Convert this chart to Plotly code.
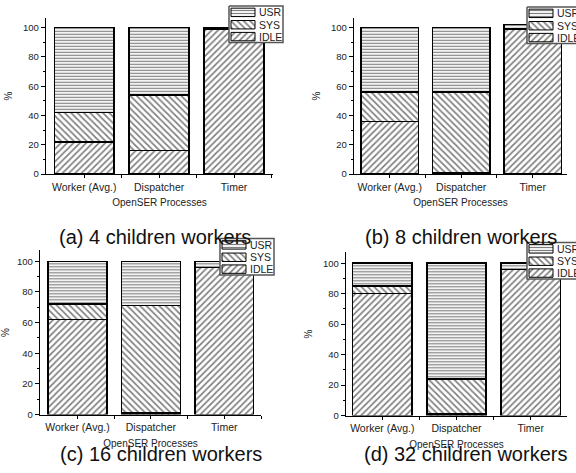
import plotly.graph_objects as go

# CPU usage breakdown of OpenSER processes (percent of time)
processes = ["Worker (Avg.)", "Dispatcher", "Timer"]
panel_titles = ["(a) 4 children workers", "(b) 8 children workers",
                "(c) 16 children workers", "(d) 32 children workers"]
series_names = ["USR", "SYS", "IDLE"]

idle_4 = [22, 16, 99]
sys_4 = [20, 38, 0.5]
usr_4 = [58, 46, 0.5]

idle_8 = [36, 1, 99]
sys_8 = [20, 55, 0.3]
usr_8 = [44, 44, 2.7]

idle_16 = [62, 1, 96]
sys_16 = [10, 70, 0]
usr_16 = [28, 29, 4]

idle_32 = [80, 1, 96]
sys_32 = [5, 23, 0]
usr_32 = [15, 76, 4]

panels = [
    (idle_4, sys_4, usr_4),
    (idle_8, sys_8, usr_8),
    (idle_16, sys_16, usr_16),
    (idle_32, sys_32, usr_32),
]

W, H = 576, 473
FONT = "Liberation Sans, Arial, sans-serif"
TXT = "#222"

# pixel layout of each panel: x-axis left/right, y of value 0, y of value 100,
# y of axis top, category range, legend box corner, caption centre
layout_px = [
    dict(x0=46, x1=273, y0=176, y100=28, ytop=18, xr=[-0.51, 2.52], leg=(229, 6), cap=(155, 240)),
    dict(x0=354, x1=567, y0=176, y100=28, ytop=18, xr=[-0.50, 2.48], leg=(527, 7), cap=(461, 240)),
    dict(x0=40, x1=261, y0=419, y100=264, ytop=253, xr=[-0.51, 2.50], leg=(220, 241), cap=(161, 459)),
    dict(x0=346, x1=567, y0=420, y100=266, ytop=255, xr=[-0.49, 2.49], leg=(527, 245), cap=(465, 459)),
]

pattern_shape = {"USR": "-", "SYS": "\\", "IDLE": "/"}
pattern_size = {"USR": 3, "SYS": 4.5, "IDLE": 4.5}
pattern_solid = {"USR": 0.4, "SYS": 0.38, "IDLE": 0.38}


def hatch(name):
    return dict(shape=pattern_shape[name], fgcolor="black", bgcolor="white",
                size=pattern_size[name], solidity=pattern_solid[name], fillmode="overlay")


xpos = list(range(len(processes)))

fig = go.Figure()
annotations = []

for i, ((idle, sys_, usr), lp) in enumerate(zip(panels, layout_px)):
    n = "" if i == 0 else str(i + 1)
    for name, vals in (("IDLE", idle), ("SYS", sys_), ("USR", usr)):
        fig.add_trace(go.Bar(
            x=xpos, y=vals, name=name, showlegend=False,
            xaxis="x" + n, yaxis="y" + n, width=0.8,
            marker=dict(color="white", line=dict(color="black", width=1.4), pattern=hatch(name)),
        ))

    xdom = [lp["x0"] / W, lp["x1"] / W]
    ydom = [1 - lp["y0"] / H, 1 - lp["ytop"] / H]
    ymax = 100 * (lp["y0"] - lp["ytop"]) / (lp["y0"] - lp["y100"])

    fig.layout["xaxis" + n] = dict(
        domain=xdom, anchor="y" + n, range=lp["xr"],
        tickvals=xpos, ticktext=processes, tickangle=0,
        showline=True, linecolor="black", linewidth=1.4,
        ticks="outside", ticklen=3, tickcolor="black",
        minor=dict(tickvals=[0.5, 1.5, 2.5], ticks="outside", ticklen=3, tickcolor="black"),
        tickfont=dict(family=FONT, size=10.5, color=TXT),
        title=dict(text="OpenSER Processes", font=dict(family=FONT, size=10, color=TXT), standoff=7),
        showgrid=False, zeroline=False, fixedrange=True,
    )
    fig.layout["yaxis" + n] = dict(
        domain=ydom, anchor="x" + n, range=[0, ymax],
        tickvals=[0, 20, 40, 60, 80, 100],
        showline=True, linecolor="black", linewidth=1.4,
        ticks="outside", ticklen=4, tickcolor="black",
        minor=dict(tickvals=[10, 30, 50, 70, 90], ticks="outside", ticklen=2, tickcolor="black"),
        tickfont=dict(family=FONT, size=9.5, color=TXT),
        title=dict(text="%", font=dict(family=FONT, size=10, color=TXT), standoff=8),
        showgrid=False, zeroline=False, fixedrange=True,
    )
    annotations.append(dict(
        text=panel_titles[i], x=lp["cap"][0] / W, y=1 - lp["cap"][1] / H,
        xref="paper", yref="paper", showarrow=False, xanchor="center", yanchor="middle",
        font=dict(family=FONT, size=20, color="#111"),
    ))

# Legend boxes: drawn on a full-figure overlay axis in pixel units so they sit on top of the bars
BOX_W, BOX_H = 54, 37
SW_X0, SW_X1 = 2, 26
SW_H = 8.5
SW_CY = [6.5, 19, 31]

for i, lp in enumerate(layout_px):
    lx, ly = lp["leg"]
    fig.add_trace(go.Scatter(
        x=[lx, lx + BOX_W, lx + BOX_W, lx, lx], y=[ly, ly, ly + BOX_H, ly + BOX_H, ly],
        mode="lines", fill="toself", fillcolor="white",
        line=dict(color="#555", width=1.5), xaxis="x5", yaxis="y5",
        showlegend=False, hoverinfo="skip",
    ))
    for name, cy in zip(series_names, SW_CY):
        x0, x1 = lx + SW_X0, lx + SW_X1
        y0, y1 = ly + cy - SW_H / 2, ly + cy + SW_H / 2
        fig.add_trace(go.Scatter(
            x=[x0, x1, x1, x0, x0], y=[y0, y0, y1, y1, y0],
            mode="lines", fill="toself", fillcolor="white", fillpattern=hatch(name),
            line=dict(color="black", width=1), xaxis="x5", yaxis="y5",
            showlegend=False, hoverinfo="skip",
        ))
        annotations.append(dict(
            text=name, x=(lx + SW_X1 + 2) / W, y=1 - (ly + cy) / H,
            xref="paper", yref="paper", showarrow=False, xanchor="left", yanchor="middle",
            font=dict(family=FONT, size=10.5, color=TXT),
        ))

fig.layout["xaxis5"] = dict(domain=[0, 1], anchor="y5", range=[0, W], visible=False, fixedrange=True)
fig.layout["yaxis5"] = dict(domain=[0, 1], anchor="x5", range=[H, 0], visible=False, fixedrange=True)

fig.update_layout(
    width=W, height=H, margin=dict(l=0, r=0, t=0, b=0),
    barmode="stack",
    paper_bgcolor="white", plot_bgcolor="rgba(0,0,0,0)",
    showlegend=False, annotations=annotations,
)

fig.write_html("out.html")
